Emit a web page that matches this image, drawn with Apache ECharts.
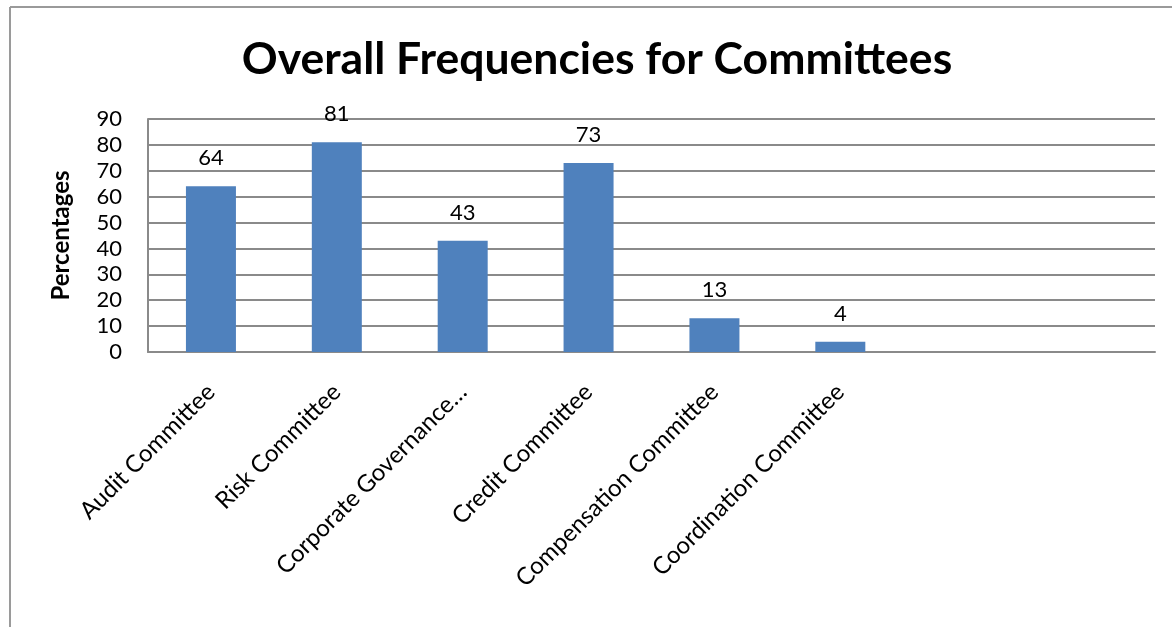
<!DOCTYPE html>
<html><head><meta charset="utf-8">
<script src="https://cdn.jsdelivr.net/npm/echarts@6/dist/echarts.min.js"></script>
<style>html,body{margin:0;padding:0;background:#fff}#c{width:1172px;height:627px}</style>
</head><body><div id="c"></div>
<script>
const categories = ["Audit Committee","Risk Committee","Corporate Governance…","Credit Committee","Compensation Committee","Coordination Committee","",""];
const values = [64, 81, 43, 73, 13, 4, null, null];
const yTicks = {min: 0, max: 90, interval: 10};
const titleText = "Overall Frequencies for Committees";
const yName = "Percentages";

const chart = echarts.init(document.getElementById('c'), null, {renderer: 'canvas'});
const font = 'Lato, "Open Sans", sans-serif';
chart.setOption({
  animation: false,
  backgroundColor: '#fff',
  title: {
    text: titleText, left: 592, top: 32, textAlign: 'center',
    textStyle: {fontFamily: font, fontWeight: 'bold', fontSize: 44.5, color: '#000'}
  },
  grid: {left: 148, right: 17, top: 119, bottom: 275, containLabel: false},
  xAxis: {
    type: 'category', data: categories,
    axisLine: {show: true, lineStyle: {color: '#8a8a8a', width: 2}},
    axisTick: {show: false},
    axisLabel: {rotate: 45, interval: 0, margin: 36, fontFamily: font, fontSize: 24, color: '#000'},
    splitLine: {show: false}
  },
  yAxis: {
    type: 'value', min: yTicks.min, max: yTicks.max, interval: yTicks.interval,
    name: yName, nameLocation: 'middle', nameGap: 75, nameRotate: 90,
    nameTextStyle: {fontFamily: font, fontWeight: 'bold', fontSize: 24, color: '#000'},
    axisLine: {show: true, lineStyle: {color: '#8a8a8a', width: 2}},
    axisTick: {show: false},
    axisLabel: {margin: 26, fontFamily: font, fontSize: 22, color: '#000'},
    splitLine: {show: true, lineStyle: {color: '#8a8a8a', width: 2}}
  },
  series: [{
    type: 'bar', data: values, barWidth: 50,
    itemStyle: {color: '#4F81BD'},
    label: {show: true, position: 'top', distance: 17, fontFamily: font, fontSize: 22, color: '#000'}
  }],
  graphic: [
    {type: 'line', shape: {x1: 10, y1: 7, x2: 10, y2: 627}, style: {stroke: '#9a9a9a', lineWidth: 2}},
    {type: 'line', shape: {x1: 10, y1: 7, x2: 1172, y2: 7}, style: {stroke: '#9a9a9a', lineWidth: 2}}
  ]
});
</script></body></html>
